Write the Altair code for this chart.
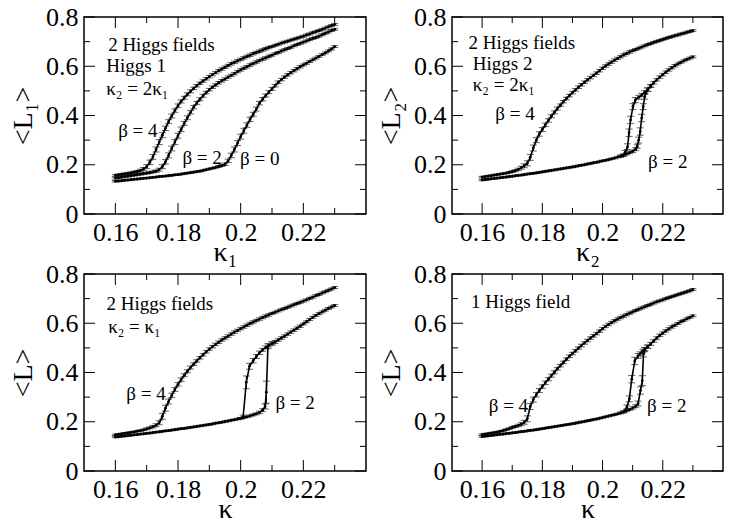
import altair as alt
import pandas as pd

# ---------------- data ----------------
K_GRID = [0.160, 0.161, 0.162, 0.163, 0.164, 0.165, 0.166, 0.167, 0.168, 0.169,
          0.170, 0.171, 0.172, 0.173, 0.174, 0.175, 0.176, 0.177, 0.178, 0.179,
          0.180, 0.181, 0.182, 0.183, 0.184, 0.185, 0.186, 0.187, 0.188, 0.189,
          0.190, 0.191, 0.192, 0.193, 0.194, 0.195, 0.196, 0.197, 0.198, 0.199,
          0.200, 0.201, 0.202, 0.203, 0.204, 0.205, 0.206, 0.207, 0.208, 0.209,
          0.210, 0.211, 0.212, 0.213, 0.214, 0.215, 0.216, 0.217, 0.218, 0.219,
          0.220, 0.221, 0.222, 0.223, 0.224, 0.225, 0.226, 0.227, 0.228, 0.229,
          0.230]

# Panel 1: 2 Higgs fields, Higgs 1
P1_B4_L = [0.157, 0.159, 0.161, 0.163, 0.165, 0.167, 0.170, 0.173, 0.177, 0.183,
           0.192, 0.210, 0.232, 0.262, 0.292, 0.320, 0.348, 0.375, 0.398, 0.420,
           0.440, 0.457, 0.472, 0.486, 0.498, 0.510, 0.521, 0.531, 0.540, 0.549,
           0.558, 0.566, 0.574, 0.582, 0.589, 0.596, 0.603, 0.610, 0.616, 0.622,
           0.628, 0.634, 0.640, 0.645, 0.651, 0.656, 0.661, 0.666, 0.671, 0.676,
           0.680, 0.685, 0.689, 0.694, 0.698, 0.702, 0.706, 0.710, 0.714, 0.718,
           0.722, 0.727, 0.731, 0.736, 0.740, 0.745, 0.750, 0.755, 0.760, 0.765,
           0.770]
P1_B4_E = [0.004, 0.004, 0.004, 0.004, 0.004, 0.004, 0.004, 0.004, 0.005, 0.006,
           0.008, 0.009, 0.010, 0.010, 0.010, 0.010, 0.009, 0.008, 0.008, 0.007,
           0.007, 0.006, 0.006, 0.006, 0.006, 0.005, 0.005, 0.005, 0.005, 0.005,
           0.005, 0.005, 0.005, 0.005, 0.005, 0.005, 0.005, 0.005, 0.005, 0.005,
           0.005, 0.005, 0.005, 0.005, 0.005, 0.005, 0.005, 0.005, 0.005, 0.005,
           0.004, 0.004, 0.004, 0.004, 0.004, 0.004, 0.004, 0.004, 0.004, 0.004,
           0.004, 0.004, 0.004, 0.004, 0.004, 0.004, 0.004, 0.004, 0.004, 0.004,
           0.004]
P1_B2_L = [0.146, 0.148, 0.150, 0.152, 0.154, 0.156, 0.158, 0.160, 0.162, 0.164,
           0.166, 0.168, 0.171, 0.174, 0.180, 0.192, 0.212, 0.238, 0.266, 0.292,
           0.318, 0.344, 0.368, 0.391, 0.413, 0.434, 0.451, 0.466, 0.480, 0.493,
           0.505, 0.515, 0.524, 0.533, 0.541, 0.548, 0.556, 0.563, 0.570, 0.578,
           0.585, 0.592, 0.598, 0.605, 0.611, 0.617, 0.623, 0.629, 0.634, 0.640,
           0.645, 0.651, 0.656, 0.662, 0.667, 0.672, 0.677, 0.683, 0.688, 0.693,
           0.698, 0.703, 0.708, 0.713, 0.717, 0.722, 0.728, 0.734, 0.739, 0.745,
           0.750]
P1_B2_E = [0.004, 0.004, 0.004, 0.004, 0.004, 0.004, 0.004, 0.004, 0.004, 0.004,
           0.004, 0.004, 0.004, 0.005, 0.006, 0.008, 0.009, 0.010, 0.010, 0.010,
           0.010, 0.009, 0.008, 0.008, 0.007, 0.007, 0.006, 0.006, 0.006, 0.005,
           0.005, 0.005, 0.005, 0.005, 0.005, 0.005, 0.005, 0.005, 0.005, 0.005,
           0.005, 0.005, 0.005, 0.005, 0.005, 0.005, 0.005, 0.005, 0.005, 0.005,
           0.004, 0.004, 0.004, 0.004, 0.004, 0.004, 0.004, 0.004, 0.004, 0.004,
           0.004, 0.004, 0.004, 0.004, 0.004, 0.004, 0.004, 0.004, 0.004, 0.004,
           0.004]
P1_B0_L = [0.133, 0.134, 0.135, 0.137, 0.138, 0.139, 0.141, 0.142, 0.143, 0.145,
           0.146, 0.147, 0.149, 0.150, 0.152, 0.153, 0.154, 0.156, 0.157, 0.159,
           0.160, 0.162, 0.164, 0.166, 0.168, 0.170, 0.172, 0.174, 0.177, 0.180,
           0.183, 0.186, 0.189, 0.193, 0.197, 0.202, 0.216, 0.238, 0.262, 0.288,
           0.314, 0.338, 0.361, 0.384, 0.405, 0.426, 0.450, 0.466, 0.481, 0.495,
           0.508, 0.521, 0.535, 0.546, 0.556, 0.565, 0.574, 0.582, 0.590, 0.598,
           0.605, 0.612, 0.619, 0.626, 0.633, 0.640, 0.647, 0.654, 0.662, 0.670,
           0.680]
P1_B0_E = [0.003, 0.003, 0.003, 0.003, 0.003, 0.003, 0.003, 0.003, 0.003, 0.003,
           0.003, 0.003, 0.003, 0.003, 0.003, 0.003, 0.003, 0.003, 0.003, 0.003,
           0.003, 0.003, 0.003, 0.003, 0.003, 0.003, 0.003, 0.003, 0.003, 0.003,
           0.003, 0.003, 0.003, 0.004, 0.004, 0.005, 0.007, 0.009, 0.010, 0.010,
           0.010, 0.010, 0.009, 0.009, 0.008, 0.008, 0.007, 0.007, 0.006, 0.006,
           0.006, 0.005, 0.005, 0.005, 0.005, 0.005, 0.005, 0.005, 0.005, 0.005,
           0.004, 0.004, 0.004, 0.004, 0.004, 0.004, 0.004, 0.004, 0.004, 0.004,
           0.004]

# Panel 2: 2 Higgs fields, Higgs 2
P2_B4_L = [0.150, 0.152, 0.154, 0.156, 0.158, 0.160, 0.162, 0.164, 0.166, 0.169,
           0.172, 0.176, 0.181, 0.188, 0.196, 0.206, 0.230, 0.268, 0.300, 0.325,
           0.343, 0.362, 0.380, 0.397, 0.413, 0.428, 0.442, 0.456, 0.469, 0.481,
           0.493, 0.504, 0.515, 0.525, 0.535, 0.545, 0.554, 0.563, 0.572, 0.582,
           0.592, 0.601, 0.609, 0.617, 0.625, 0.632, 0.639, 0.646, 0.652, 0.658,
           0.663, 0.668, 0.673, 0.678, 0.683, 0.688, 0.692, 0.697, 0.701, 0.705,
           0.709, 0.713, 0.717, 0.720, 0.724, 0.727, 0.731, 0.734, 0.738, 0.741,
           0.745]
P2_B4_E = [0.003, 0.003, 0.003, 0.003, 0.003, 0.003, 0.003, 0.003, 0.003, 0.003,
           0.004, 0.004, 0.005, 0.006, 0.008, 0.010, 0.012, 0.012, 0.010, 0.009,
           0.008, 0.007, 0.007, 0.006, 0.006, 0.006, 0.005, 0.005, 0.005, 0.005,
           0.005, 0.005, 0.005, 0.005, 0.005, 0.005, 0.005, 0.005, 0.005, 0.005,
           0.005, 0.005, 0.005, 0.005, 0.005, 0.005, 0.005, 0.005, 0.005, 0.005,
           0.004, 0.004, 0.004, 0.004, 0.004, 0.004, 0.004, 0.004, 0.004, 0.004,
           0.004, 0.004, 0.004, 0.004, 0.004, 0.004, 0.004, 0.004, 0.004, 0.004,
           0.004]
P2_B2H_K = [0.160, 0.161, 0.162, 0.163, 0.164, 0.165, 0.166, 0.167, 0.168, 0.169,
            0.170, 0.171, 0.172, 0.173, 0.174, 0.175, 0.176, 0.177, 0.178, 0.179,
            0.180, 0.181, 0.182, 0.183, 0.184, 0.185, 0.186, 0.187, 0.188, 0.189,
            0.190, 0.191, 0.192, 0.193, 0.194, 0.195, 0.196, 0.197, 0.198, 0.199,
            0.200, 0.201, 0.202, 0.203, 0.204, 0.205, 0.206, 0.207, 0.208, 0.209,
            0.210, 0.211, 0.2115, 0.212, 0.2125, 0.213, 0.2135, 0.214,
            0.215, 0.216, 0.217, 0.218, 0.219, 0.220, 0.221, 0.222, 0.223, 0.224,
            0.225, 0.226, 0.227, 0.228, 0.229, 0.230]
P2_B2H_L = [0.138, 0.140, 0.141, 0.143, 0.144, 0.146, 0.147, 0.149, 0.150, 0.152,
            0.153, 0.155, 0.157, 0.158, 0.160, 0.162, 0.164, 0.165, 0.167, 0.169,
            0.171, 0.173, 0.175, 0.177, 0.179, 0.181, 0.183, 0.185, 0.187, 0.189,
            0.191, 0.193, 0.196, 0.198, 0.200, 0.203, 0.205, 0.208, 0.210, 0.213,
            0.216, 0.218, 0.221, 0.224, 0.227, 0.231, 0.235, 0.239, 0.244, 0.249,
            0.255, 0.263, 0.275, 0.300, 0.335, 0.390, 0.436, 0.476,
            0.505, 0.520, 0.533, 0.545, 0.556, 0.566, 0.576, 0.585, 0.594, 0.602,
            0.609, 0.616, 0.622, 0.628, 0.633, 0.638]
P2_B2H_E = [0.003, 0.003, 0.003, 0.003, 0.003, 0.003, 0.003, 0.003, 0.003, 0.003,
            0.003, 0.003, 0.003, 0.003, 0.003, 0.003, 0.003, 0.003, 0.003, 0.003,
            0.003, 0.003, 0.003, 0.003, 0.003, 0.003, 0.003, 0.003, 0.003, 0.003,
            0.003, 0.003, 0.003, 0.003, 0.003, 0.003, 0.003, 0.003, 0.003, 0.003,
            0.003, 0.003, 0.003, 0.003, 0.003, 0.003, 0.004, 0.004, 0.004, 0.004,
            0.005, 0.006, 0.008, 0.012, 0.015, 0.015, 0.012, 0.010,
            0.008, 0.006, 0.005, 0.005, 0.005, 0.005, 0.005, 0.005, 0.005, 0.005,
            0.004, 0.004, 0.004, 0.004, 0.004, 0.004]
P2_B2C_K = [0.206, 0.207, 0.2075, 0.2083, 0.2088, 0.2093, 0.2101, 0.2109, 0.212, 0.213, 0.214, 0.215, 0.216]
P2_B2C_L = [0.235, 0.239, 0.250, 0.273, 0.330, 0.382, 0.436, 0.463, 0.474, 0.483, 0.495, 0.505, 0.520]
P2_B2C_E = [0.004, 0.005, 0.008, 0.012, 0.015, 0.015, 0.012, 0.010, 0.008, 0.007, 0.006, 0.006, 0.005]

# Panel 3: 2 Higgs fields, kappa2 = kappa1
P3_B4_L = [0.147, 0.149, 0.151, 0.153, 0.155, 0.157, 0.159, 0.162, 0.164, 0.167,
           0.171, 0.175, 0.180, 0.186, 0.196, 0.222, 0.255, 0.282, 0.307, 0.331,
           0.352, 0.371, 0.389, 0.405, 0.420, 0.434, 0.447, 0.460, 0.472, 0.484,
           0.495, 0.505, 0.514, 0.523, 0.532, 0.540, 0.548, 0.556, 0.564, 0.571,
           0.578, 0.585, 0.592, 0.599, 0.605, 0.611, 0.617, 0.623, 0.629, 0.634,
           0.640, 0.645, 0.650, 0.655, 0.660, 0.665, 0.670, 0.675, 0.680, 0.685,
           0.690, 0.695, 0.701, 0.706, 0.712, 0.717, 0.723, 0.728, 0.734, 0.739,
           0.745]
P3_B4_E = [0.003, 0.003, 0.003, 0.003, 0.003, 0.003, 0.003, 0.003, 0.003, 0.003,
           0.004, 0.004, 0.005, 0.006, 0.008, 0.012, 0.012, 0.010, 0.009, 0.008,
           0.007, 0.007, 0.006, 0.006, 0.006, 0.005, 0.005, 0.005, 0.005, 0.005,
           0.005, 0.005, 0.005, 0.005, 0.005, 0.005, 0.005, 0.005, 0.005, 0.005,
           0.005, 0.005, 0.005, 0.005, 0.005, 0.005, 0.005, 0.005, 0.005, 0.005,
           0.004, 0.004, 0.004, 0.004, 0.004, 0.004, 0.004, 0.004, 0.004, 0.004,
           0.004, 0.004, 0.004, 0.004, 0.004, 0.004, 0.004, 0.004, 0.004, 0.004,
           0.004]
P3_B2H_K = [0.160, 0.161, 0.162, 0.163, 0.164, 0.165, 0.166, 0.167, 0.168, 0.169,
            0.170, 0.171, 0.172, 0.173, 0.174, 0.175, 0.176, 0.177, 0.178, 0.179,
            0.180, 0.181, 0.182, 0.183, 0.184, 0.185, 0.186, 0.187, 0.188, 0.189,
            0.190, 0.191, 0.192, 0.193, 0.194, 0.195, 0.196, 0.197, 0.198, 0.199,
            0.200, 0.201, 0.202, 0.203, 0.204, 0.205, 0.206, 0.207,
            0.2078, 0.2082, 0.2087,
            0.210, 0.211, 0.212, 0.213, 0.214, 0.215, 0.216, 0.217, 0.218, 0.219,
            0.220, 0.221, 0.222, 0.223, 0.224, 0.225, 0.226, 0.227, 0.228, 0.229,
            0.230]
P3_B2H_L = [0.138, 0.139, 0.141, 0.142, 0.144, 0.145, 0.147, 0.148, 0.150, 0.151,
            0.153, 0.154, 0.156, 0.158, 0.159, 0.161, 0.163, 0.164, 0.166, 0.168,
            0.170, 0.172, 0.173, 0.175, 0.177, 0.179, 0.181, 0.183, 0.185, 0.187,
            0.189, 0.191, 0.194, 0.196, 0.198, 0.201, 0.203, 0.206, 0.208, 0.211,
            0.214, 0.217, 0.220, 0.224, 0.228, 0.232, 0.238, 0.247,
            0.262, 0.320, 0.507,
            0.518, 0.524, 0.532, 0.540, 0.548, 0.556, 0.564, 0.572, 0.580, 0.588,
            0.597, 0.606, 0.615, 0.624, 0.632, 0.639, 0.646, 0.653, 0.660, 0.666,
            0.672]
P3_B2H_E = [0.003, 0.003, 0.003, 0.003, 0.003, 0.003, 0.003, 0.003, 0.003, 0.003,
            0.003, 0.003, 0.003, 0.003, 0.003, 0.003, 0.003, 0.003, 0.003, 0.003,
            0.003, 0.003, 0.003, 0.003, 0.003, 0.003, 0.003, 0.003, 0.003, 0.003,
            0.003, 0.003, 0.003, 0.003, 0.003, 0.003, 0.003, 0.003, 0.003, 0.003,
            0.003, 0.003, 0.003, 0.004, 0.004, 0.004, 0.005, 0.006,
            0.010, 0.045, 0.010,
            0.007, 0.006, 0.005, 0.005, 0.005, 0.005, 0.005, 0.005, 0.005, 0.005,
            0.004, 0.004, 0.004, 0.004, 0.004, 0.004, 0.004, 0.004, 0.004, 0.004,
            0.004]
P3_B2C_K = [0.200, 0.2008, 0.2018, 0.2028, 0.204, 0.205, 0.206, 0.207, 0.208, 0.209, 0.210]
P3_B2C_L = [0.214, 0.222, 0.360, 0.425, 0.448, 0.465, 0.480, 0.492, 0.502, 0.510, 0.518]
P3_B2C_E = [0.003, 0.005, 0.026, 0.012, 0.009, 0.008, 0.007, 0.006, 0.006, 0.006, 0.006]

# Panel 4: 1 Higgs field
P4_B4_L = [0.148, 0.150, 0.152, 0.154, 0.156, 0.158, 0.161, 0.164, 0.168, 0.172,
           0.177, 0.181, 0.185, 0.190, 0.198, 0.212, 0.262, 0.290, 0.310, 0.327,
           0.343, 0.358, 0.373, 0.387, 0.401, 0.415, 0.428, 0.441, 0.454, 0.466,
           0.477, 0.488, 0.499, 0.510, 0.520, 0.530, 0.540, 0.549, 0.558, 0.568,
           0.578, 0.587, 0.595, 0.603, 0.610, 0.617, 0.623, 0.629, 0.635, 0.641,
           0.646, 0.652, 0.657, 0.662, 0.667, 0.672, 0.677, 0.682, 0.687, 0.691,
           0.695, 0.700, 0.704, 0.708, 0.712, 0.716, 0.720, 0.724, 0.728, 0.732,
           0.737]
P4_B4_E = [0.003, 0.003, 0.003, 0.003, 0.003, 0.003, 0.003, 0.003, 0.003, 0.003,
           0.004, 0.004, 0.005, 0.006, 0.008, 0.012, 0.012, 0.010, 0.009, 0.008,
           0.007, 0.007, 0.006, 0.006, 0.006, 0.005, 0.005, 0.005, 0.005, 0.005,
           0.005, 0.005, 0.005, 0.005, 0.005, 0.005, 0.005, 0.005, 0.005, 0.005,
           0.005, 0.005, 0.005, 0.005, 0.005, 0.005, 0.005, 0.005, 0.005, 0.005,
           0.004, 0.004, 0.004, 0.004, 0.004, 0.004, 0.004, 0.004, 0.004, 0.004,
           0.004, 0.004, 0.004, 0.004, 0.004, 0.004, 0.004, 0.004, 0.004, 0.004,
           0.004]
P4_B2H_K = [0.160, 0.161, 0.162, 0.163, 0.164, 0.165, 0.166, 0.167, 0.168, 0.169,
            0.170, 0.171, 0.172, 0.173, 0.174, 0.175, 0.176, 0.177, 0.178, 0.179,
            0.180, 0.181, 0.182, 0.183, 0.184, 0.185, 0.186, 0.187, 0.188, 0.189,
            0.190, 0.191, 0.192, 0.193, 0.194, 0.195, 0.196, 0.197, 0.198, 0.199,
            0.200, 0.201, 0.202, 0.203, 0.204, 0.205, 0.206, 0.207, 0.208, 0.209,
            0.210, 0.211, 0.2118, 0.2126, 0.2132, 0.2136,
            0.214, 0.215, 0.216, 0.217, 0.218, 0.219, 0.220, 0.221, 0.222, 0.223,
            0.224, 0.225, 0.226, 0.227, 0.228, 0.229, 0.230]
P4_B2H_L = [0.140, 0.141, 0.143, 0.144, 0.146, 0.147, 0.149, 0.150, 0.152, 0.153,
            0.155, 0.156, 0.158, 0.160, 0.161, 0.163, 0.165, 0.166, 0.168, 0.170,
            0.172, 0.174, 0.176, 0.178, 0.180, 0.182, 0.184, 0.186, 0.188, 0.190,
            0.192, 0.194, 0.197, 0.199, 0.201, 0.204, 0.206, 0.209, 0.211, 0.214,
            0.217, 0.220, 0.223, 0.226, 0.229, 0.232, 0.236, 0.240, 0.245, 0.250,
            0.256, 0.263, 0.274, 0.327, 0.367, 0.475,
            0.493, 0.505, 0.516, 0.528, 0.540, 0.551, 0.560, 0.569, 0.577, 0.585,
            0.592, 0.599, 0.606, 0.612, 0.618, 0.624, 0.630]
P4_B2H_E = [0.003, 0.003, 0.003, 0.003, 0.003, 0.003, 0.003, 0.003, 0.003, 0.003,
            0.003, 0.003, 0.003, 0.003, 0.003, 0.003, 0.003, 0.003, 0.003, 0.003,
            0.003, 0.003, 0.003, 0.003, 0.003, 0.003, 0.003, 0.003, 0.003, 0.003,
            0.003, 0.003, 0.003, 0.003, 0.003, 0.003, 0.003, 0.003, 0.003, 0.003,
            0.003, 0.003, 0.003, 0.003, 0.003, 0.003, 0.004, 0.004, 0.004, 0.004,
            0.005, 0.006, 0.010, 0.015, 0.020, 0.012,
            0.008, 0.007, 0.006, 0.005, 0.005, 0.005, 0.005, 0.005, 0.005, 0.005,
            0.004, 0.004, 0.004, 0.004, 0.004, 0.004, 0.004]
P4_B2C_K = [0.207, 0.2081, 0.2089, 0.2097, 0.2107, 0.2118, 0.2125, 0.2134, 0.214, 0.215]
P4_B2C_L = [0.240, 0.260, 0.293, 0.373, 0.447, 0.467, 0.476, 0.487, 0.495, 0.505]
P4_B2C_E = [0.004, 0.008, 0.012, 0.015, 0.015, 0.010, 0.008, 0.007, 0.006, 0.006]

# annotations (text, kappa, <L>)
P1_TXT = ["2 Higgs fields", "Higgs 1", "κ₂ = 2κ₁", "β = 4", "β = 2", "β = 0"]
P1_TX = [0.1577, 0.1571, 0.1571, 0.1609, 0.1814, 0.1998]
P1_TY = [0.660, 0.577, 0.482, 0.313, 0.205, 0.199]
P2_TXT = ["2 Higgs fields", "Higgs 2", "κ₂ = 2κ₁", "β = 4", "β = 2"]
P2_TX = [0.1555, 0.1569, 0.1569, 0.1644, 0.2151]
P2_TY = [0.669, 0.584, 0.499, 0.381, 0.185]
P3_TXT = ["2 Higgs fields", "κ₂ = κ₁", "β = 4", "β = 2"]
P3_TX = [0.1572, 0.1577, 0.1635, 0.2111]
P3_TY = [0.653, 0.560, 0.289, 0.253]
P4_TXT = ["1 Higgs field", "β = 4", "β = 2"]
P4_TX = [0.1563, 0.1622, 0.2148]
P4_TY = [0.660, 0.240, 0.240]

X_DOMAIN = [0.15, 0.24]
Y_DOMAIN = [0.0, 0.8]
XT_MAJOR = [0.16, 0.18, 0.20, 0.22]
XT_MINOR = [0.17, 0.19, 0.21, 0.23]
YT_MAJOR = [0.0, 0.2, 0.4, 0.6, 0.8]
YT_MINOR = [0.1, 0.3, 0.5, 0.7]

# ---------------- layout ----------------
W_LEFT, W_RIGHT, H = 282, 271, 197
TMAJ, TMIN = 11, 6
FONT = "Liberation Serif"
INK = "black"


def panel(curves, txt, tx, ty, xtitle, ytitle, W):
    xs = alt.Scale(domain=X_DOMAIN, nice=False, zero=False)
    ys = alt.Scale(domain=Y_DOMAIN, nice=False, zero=False)
    xaxis = alt.Axis(values=XT_MAJOR, format="~g", title=xtitle,
                     labelFont=FONT, titleFont=FONT)
    yaxis = alt.Axis(values=YT_MAJOR, format="~g", title=ytitle,
                     labelFont=FONT, titleFont=FONT)

    rows = []
    for name, K, L, E in curves:
        assert len(K) == len(L) == len(E), name
        for i, (k, l, e) in enumerate(zip(K, L, E)):
            rows.append(dict(curve=name, i=i, k=k, L=l, lo=l - e, hi=l + e))
    df = pd.DataFrame(rows)
    base = alt.Chart(df)

    def X(f):
        return alt.X(f, type="quantitative", scale=xs, axis=xaxis)

    def Y(f):
        return alt.Y(f, type="quantitative", scale=ys, axis=yaxis)

    bars = base.mark_rule(color=INK, strokeWidth=1).encode(x=X("k"), y=Y("lo"), y2="hi:Q")
    cap_lo = base.mark_tick(orient="horizontal", size=7, thickness=1, color="#222222").encode(x=X("k"), y=Y("lo"))
    cap_hi = base.mark_tick(orient="horizontal", size=7, thickness=1, color="#222222").encode(x=X("k"), y=Y("hi"))
    line = base.mark_line(color=INK, strokeWidth=1.6).encode(
        x=X("k"), y=Y("L"), detail="curve:N", order="i:Q")
    pts = base.mark_circle(size=8, color=INK, opacity=1).encode(x=X("k"), y=Y("L"))

    xmaj = pd.DataFrame({"v": XT_MAJOR})
    xmin = pd.DataFrame({"v": XT_MINOR})
    ymaj = pd.DataFrame({"v": YT_MAJOR})
    ymin = pd.DataFrame({"v": YT_MINOR})
    ticks = []
    for d, n in ((xmaj, TMAJ), (xmin, TMIN)):
        ticks.append(alt.Chart(d).mark_rule(color=INK).encode(x=X("v"), y=alt.value(H), y2=alt.value(H - n)))
        ticks.append(alt.Chart(d).mark_rule(color=INK).encode(x=X("v"), y=alt.value(0), y2=alt.value(n)))
    for d, n in ((ymaj, TMAJ), (ymin, TMIN)):
        ticks.append(alt.Chart(d).mark_rule(color=INK).encode(y=Y("v"), x=alt.value(0), x2=alt.value(n)))
        ticks.append(alt.Chart(d).mark_rule(color=INK).encode(y=Y("v"), x=alt.value(W), x2=alt.value(W - n)))

    tdf = pd.DataFrame({"t": txt, "tx": tx, "ty": ty})
    labels = alt.Chart(tdf).mark_text(
        align="left", baseline="alphabetic", font=FONT, fontSize=19, color=INK
    ).encode(x=X("tx"), y=Y("ty"), text="t:N")

    return alt.layer(*ticks, bars, cap_lo, cap_hi, line, pts, labels).properties(width=W, height=H)


p1 = panel([("b4", K_GRID, P1_B4_L, P1_B4_E), ("b2", K_GRID, P1_B2_L, P1_B2_E),
            ("b0", K_GRID, P1_B0_L, P1_B0_E)],
           P1_TXT, P1_TX, P1_TY, "κ₁", "<L₁>", W_LEFT)
p2 = panel([("b4", K_GRID, P2_B4_L, P2_B4_E), ("b2h", P2_B2H_K, P2_B2H_L, P2_B2H_E),
            ("b2c", P2_B2C_K, P2_B2C_L, P2_B2C_E)],
           P2_TXT, P2_TX, P2_TY, "κ₂", "<L₂>", W_RIGHT)
p3 = panel([("b4", K_GRID, P3_B4_L, P3_B4_E), ("b2h", P3_B2H_K, P3_B2H_L, P3_B2H_E),
            ("b2c", P3_B2C_K, P3_B2C_L, P3_B2C_E)],
           P3_TXT, P3_TX, P3_TY, "κ", "<L>", W_LEFT)
p4 = panel([("b4", K_GRID, P4_B4_L, P4_B4_E), ("b2h", P4_B2H_K, P4_B2H_L, P4_B2H_E),
            ("b2c", P4_B2C_K, P4_B2C_L, P4_B2C_E)],
           P4_TXT, P4_TX, P4_TY, "κ", "<L>", W_RIGHT)

chart = alt.concat(
    p1, p2, p3, p4, columns=2, spacing={"row": 60, "column": 86}, bounds="flush"
).properties(
    padding={"left": 0, "top": -5, "right": 0, "bottom": 0}
).configure_view(
    stroke=INK, strokeWidth=1.5
).configure_axis(
    grid=False, ticks=False, domain=False,
    labelFont=FONT, labelFontSize=26, labelColor=INK,
    titleFont=FONT, titleFontSize=28, titleFontWeight="normal", titleColor=INK,
    labelFlush=False, labelOverlap=False,
).configure_axisX(
    labelPadding=5, titlePadding=-7
).configure_axisY(
    labelPadding=6, titlePadding=8
)

chart.save("out.html", embed_options={"renderer": "svg", "actions": False})
